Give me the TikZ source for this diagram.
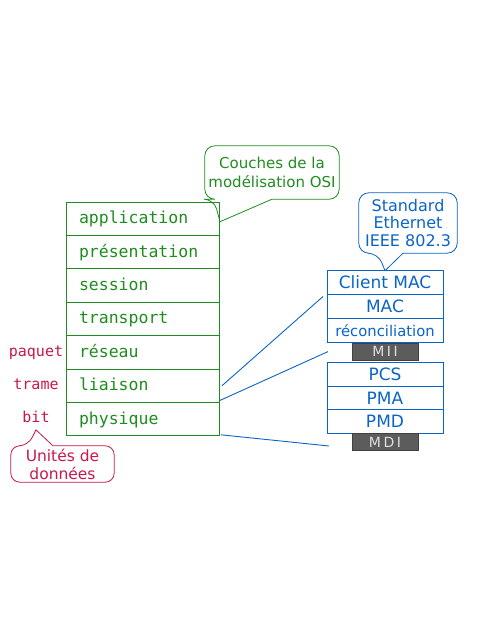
\documentclass[tikz,border=0pt]{standalone}
\usepackage{fontspec}
\setmainfont{DejaVu Sans}
\setmonofont{DejaVu Sans Mono}
\newfontfamily\gapfont[LetterSpace=18]{DejaVu Sans}
\usetikzlibrary{positioning}

\definecolor{osigreen}{HTML}{1E8C1E}
\definecolor{ethblue}{HTML}{0A64C8}
\definecolor{unitred}{HTML}{C8174B}
\definecolor{ifgray}{HTML}{5C5C5C}

\begin{document}
\begin{tikzpicture}[
  x=1pt, y=-1pt,
  layer/.style={draw=osigreen, line width=1pt, text=osigreen, font=\ttfamily\fontsize{16.5}{18}\selectfont,
    text width=127pt, inner xsep=13pt, inner ysep=0pt, minimum height=33.4pt, outer sep=0pt,
    text height=13.5pt, text depth=3.5pt, align=left},
  unit/.style={text=unitred, font=\ttfamily\fontsize{15}{17}\selectfont, text height=11pt, text depth=3.5pt},
  sub/.style={draw=ethblue, line width=0.8pt, text=ethblue, font=\fontsize{17}{19}\selectfont,
    minimum width=116pt, minimum height=23.8pt, inner sep=0pt, outer sep=0pt},
  iface/.style={fill=ifgray, draw=ifgray!70!black, line width=0.6pt, text=white!88!black, outer sep=0pt,
    font=\gapfont\fontsize{14}{16}\selectfont, minimum width=66pt, minimum height=17pt, inner sep=0pt},
  note/.style={align=center, inner sep=0pt},
  link/.style={draw=ethblue, line width=0.9pt},
  node distance=0pt
]
\useasboundingbox (0,0) rectangle (480,640);

% couches OSI
\node[layer] (application) at (142.5,218.7) {application};
\node[layer, below=of application] (presentation) {présentation};
\node[layer, below=of presentation] (session) {session};
\node[layer, below=of session] (transport) {transport};
\node[layer, below=of transport] (reseau) {réseau};
\node[layer, below=of reseau] (liaison) {liaison};
\node[layer, below=of liaison] (physique) {physique};

% unites de donnees
\node[unit] (paquet) at ([xshift=-106.5pt]reseau) {paquet};
\node[unit] (trame) at ([xshift=-106.5pt]liaison) {trame};
\node[unit] (bit) at ([xshift=-106.5pt]physique) {bit};

% sous-couches Ethernet
\node[sub] (client) at (385,282.6) {Client MAC};
\node[sub, below=of client] (mac) {MAC};
\node[sub, below=of mac, font=\fontsize{14.8}{16}\selectfont] (reconc) {réconciliation};
\node[iface, below=1pt of reconc] (mii) {MII};
\node[sub, below=2pt of mii] (pcs) {PCS};
\node[sub, below=of pcs] (pma) {PMA};
\node[sub, below=of pma] (pmd) {PMD};
\node[iface, below=of pmd] (mdi) {MDI};

\draw[link] ([xshift=3pt]liaison.east) -- ([shift={(-4,2)}]mac.north west);
\draw[link] ([shift={(1,-2)}]liaison.south east) -- ([xshift=-24pt]mii.west);
\draw[link] ([shift={(2,-1)}]physique.south east) -- ([shift={(-23,4)}]mdi.west);

% bulles
\node[note, text=osigreen, font=\fontsize{15}{18.5}\selectfont, minimum width=134pt, minimum height=53pt]
  (osinote) at (272,172.5) {Couches de la\\modélisation OSI};
\draw[osigreen, line width=0.8pt, rounded corners=10pt]
  ([xshift=0pt]osinote.south) -- (osinote.south east) -- (osinote.north east)
  -- (osinote.north west) -- (osinote.south west) -- ([xshift=-58pt]osinote.south)
  [sharp corners] -- ([shift={(1,3)}]application.east) -- cycle;

\node[note, text=ethblue, font=\fontsize{16}{17.5}\selectfont, minimum width=98pt, minimum height=60pt]
  (ethnote) at (408,223) {Standard\\Ethernet\\IEEE 802.3};
\draw[ethblue, line width=0.8pt, rounded corners=10pt]
  ([xshift=-5pt]ethnote.south) -- (ethnote.south east) -- (ethnote.north east)
  -- (ethnote.north west) -- (ethnote.south west) -- ([xshift=-30pt]ethnote.south)
  [sharp corners] -- (client.north) -- cycle;

\node[note, text=unitred, font=\fontsize{15.5}{18}\selectfont, minimum width=103pt, minimum height=36pt]
  (unitnote) at (62.5,464) {Unités de\\données};
\draw[unitred, line width=0.8pt, rounded corners=9pt]
  ([xshift=-9.5pt]unitnote.north) -- (unitnote.north east) -- (unitnote.south east)
  -- (unitnote.south west) -- (unitnote.north west) -- ([xshift=-34.5pt]unitnote.north)
  [sharp corners] -- (bit.south) -- cycle;
\end{tikzpicture}
\end{document}
